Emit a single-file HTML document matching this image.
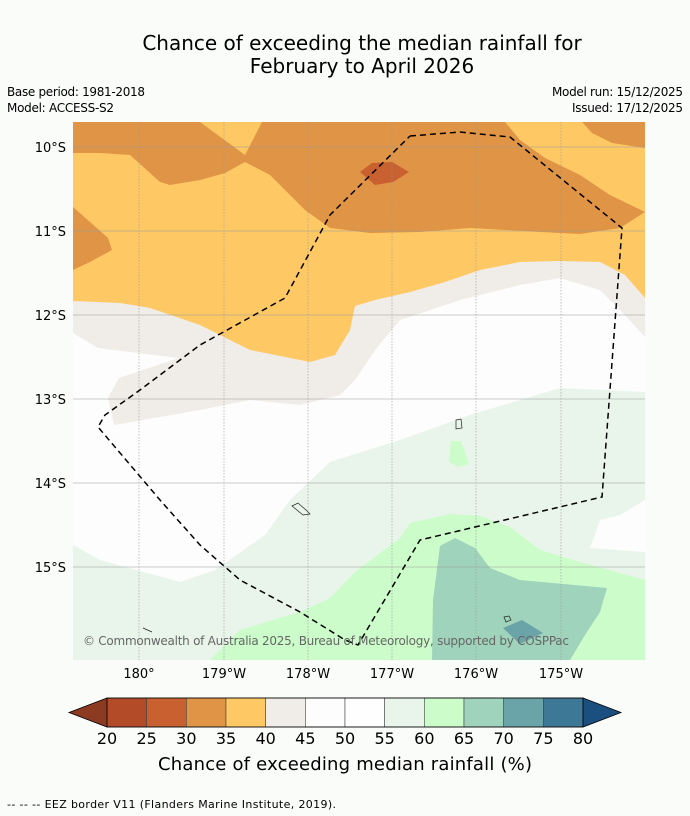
<!DOCTYPE html>
<html><head><meta charset="utf-8"><style>
body{margin:0;background:#fafcfa;font-family:"DejaVu Sans","Liberation Sans",sans-serif;}
svg{display:block}
</style></head><body>
<svg width="690" height="816" viewBox="0 0 690 816" xmlns="http://www.w3.org/2000/svg" font-family="DejaVu Sans, Liberation Sans, sans-serif">
<rect width="690" height="816" fill="#fafcfa"/>
<text x="362" y="50" font-size="20" text-anchor="middle" fill="#000">Chance of exceeding the median rainfall for</text>
<text x="362" y="73" font-size="20" text-anchor="middle" fill="#000">February to April 2026</text>
<text x="7" y="96" font-size="12" textLength="138">Base period: 1981-2018</text>
<text x="7" y="112" font-size="12" textLength="107">Model: ACCESS-S2</text>
<text x="683" y="96" font-size="12" text-anchor="end" textLength="131">Model run: 15/12/2025</text>
<text x="683" y="112" font-size="12" text-anchor="end" textLength="111">Issued: 17/12/2025</text>
<defs><clipPath id="mc"><rect x="73" y="122" width="572" height="538"/></clipPath></defs>
<g clip-path="url(#mc)">
<rect x="73" y="122" width="572" height="538" fill="#e9f5ea"/>
<polygon fill="#fcfdfc" points="73,122 645,122 645,392 560,388 470,415 400,440 330,462 290,500 265,535 215,570 180,582 100,560 73,545"/>
<polygon fill="#fcfdfc" points="645,500 620,515 600,520 590,548 645,552"/>
<polygon fill="#f0ece7" points="73,122 645,122 645,337 625,315 600,290 560,278 520,285 460,300 400,320 375,350 355,380 340,395 300,405 250,400 200,410 114,425 108,398 119,378 179,358 98,348 73,333"/>
<polygon fill="#fec965" points="73,122 645,122 645,298 625,275 600,262 560,261 520,262 480,270 445,282 410,292 375,300 355,306 350,330 335,355 310,362 250,350 200,325 150,308 120,303 73,301"/>
<polygon fill="#e09445" points="73,122 200,122 245,155 262,122 505,122 520,140 545,158 580,175 610,195 645,212 620,228 580,234 540,232 470,228 420,232 370,233 330,228 305,210 290,195 270,175 245,162 225,173 200,180 170,185 160,182 130,155 100,153 73,153"/>
<polygon fill="#e09445" points="582,122 645,122 645,148 612,143 592,133"/>
<polygon fill="#e09445" points="73,207 90,222 108,238 112,250 90,262 73,270"/>
<polygon fill="#c9602f" points="360,172 372,163 392,162 409,172 393,182 375,185"/>
<polygon fill="#ccfcca" points="210,660 240,630 300,612 330,598 355,572 400,538 410,523 450,514 480,516 510,527 540,550 580,562 645,580 645,660"/>
<polygon fill="#ccfcca" points="451,441 461,441 469,464 458,467 449,462"/>
<polygon fill="#9fd3bb" points="440,546 455,538 475,548 490,568 520,580 607,588 600,612 585,635 570,660 432,660 433,600"/>
<polygon fill="#6ba4a8" points="503,628 522,620 543,633 520,644"/>
<g stroke="#999" stroke-width="0.6" stroke-dasharray="1.5,1.5">
<line x1="139" y1="122" x2="139" y2="660"/><line x1="224" y1="122" x2="224" y2="660"/><line x1="308" y1="122" x2="308" y2="660"/><line x1="392" y1="122" x2="392" y2="660"/><line x1="476" y1="122" x2="476" y2="660"/><line x1="561" y1="122" x2="561" y2="660"/></g>
<g stroke="#999" stroke-width="0.6">
<line x1="73" y1="147" x2="645" y2="147"/><line x1="73" y1="231" x2="645" y2="231"/><line x1="73" y1="315" x2="645" y2="315"/><line x1="73" y1="399" x2="645" y2="399"/><line x1="73" y1="483" x2="645" y2="483"/><line x1="73" y1="567" x2="645" y2="567"/></g>
<g fill="none" stroke="#222" stroke-width="0.7">
<path d="M456,420 L461,419 L462,428 L456,429 Z"/><path d="M292,506 L298,503 L306,510 L310,514 L303,515 Z"/><path d="M504,617 L509,616 L511,620 L506,622 Z"/><path d="M143,628 L152,632"/></g>
<polyline fill="none" stroke="#000" stroke-width="1.5" stroke-dasharray="6,4" points="410,136 460,132 510,137 622,228 602,497 420,540 358,645 345,640 300,612 240,580 200,545 160,500 98,427 105,415 140,390 200,345 285,298 330,215 410,136"/>
<text x="83" y="645" font-size="12" fill="#666" textLength="486">© Commonwealth of Australia 2025, Bureau of Meteorology, supported by COSPPac</text>
</g>
<g font-size="13" fill="#000" text-anchor="end">
<text x="66" y="152">10°S</text><text x="66" y="236">11°S</text><text x="66" y="320">12°S</text><text x="66" y="404">13°S</text><text x="66" y="488">14°S</text><text x="66" y="572">15°S</text></g>
<g font-size="13" fill="#000" text-anchor="middle">
<text x="139" y="678">180°</text><text x="224" y="678">179°W</text><text x="308" y="678">178°W</text><text x="392" y="678">177°W</text><text x="476" y="678">176°W</text><text x="561" y="678">175°W</text></g>
<g id="cbar"></g>
<text x="345" y="770" font-size="18" text-anchor="middle" textLength="374">Chance of exceeding median rainfall (%)</text>
<text x="7" y="808" font-size="11" textLength="329">--  --  -- EEZ border V11 (Flanders Marine Institute, 2019).</text>
</svg>
<script>
const levels=[20,25,30,35,40,45,50,55,60,65,70,75,80];
const colors=["#b34a28","#c9602f","#e09445","#fec965","#f0ece7","#fcfdfc","#fdfefd","#e9f5ea","#ccfcca","#9fd3bb","#6ba4a8","#3e7897"];
const ns="http://www.w3.org/2000/svg";
const g=document.getElementById('cbar');
const x0=107,x1=583,y0=698,y1=727,w=(x1-x0)/colors.length;
function mk(t,a){const e=document.createElementNS(ns,t);for(const k in a)e.setAttribute(k,a[k]);g.appendChild(e);return e;}
let la=mk('polygon',{points:`${x0},${y0} 69,${(y0+y1)/2} ${x0},${y1}`,fill:'#8c3b22',stroke:'#000','stroke-width':0.8});


let ra=mk('polygon',{points:`${x1},${y0} 621,${(y0+y1)/2} ${x1},${y1}`,fill:'#1b4f80',stroke:'#000','stroke-width':0.8});


colors.forEach((c,i)=>{const r=mk('rect',{x:x0+i*w,y:y0,width:w,height:y1-y0,fill:c,stroke:'#444','stroke-width':0.6});

});
mk('rect',{x:x0,y:y0,width:x1-x0,height:y1-y0,fill:'none',stroke:'#000','stroke-width':0.8});
levels.forEach((v,i)=>{const t=mk('text',{x:x0+i*w,y:744,'font-size':16,'text-anchor':'middle'});t.textContent=v;

});
</script>
</body></html>
